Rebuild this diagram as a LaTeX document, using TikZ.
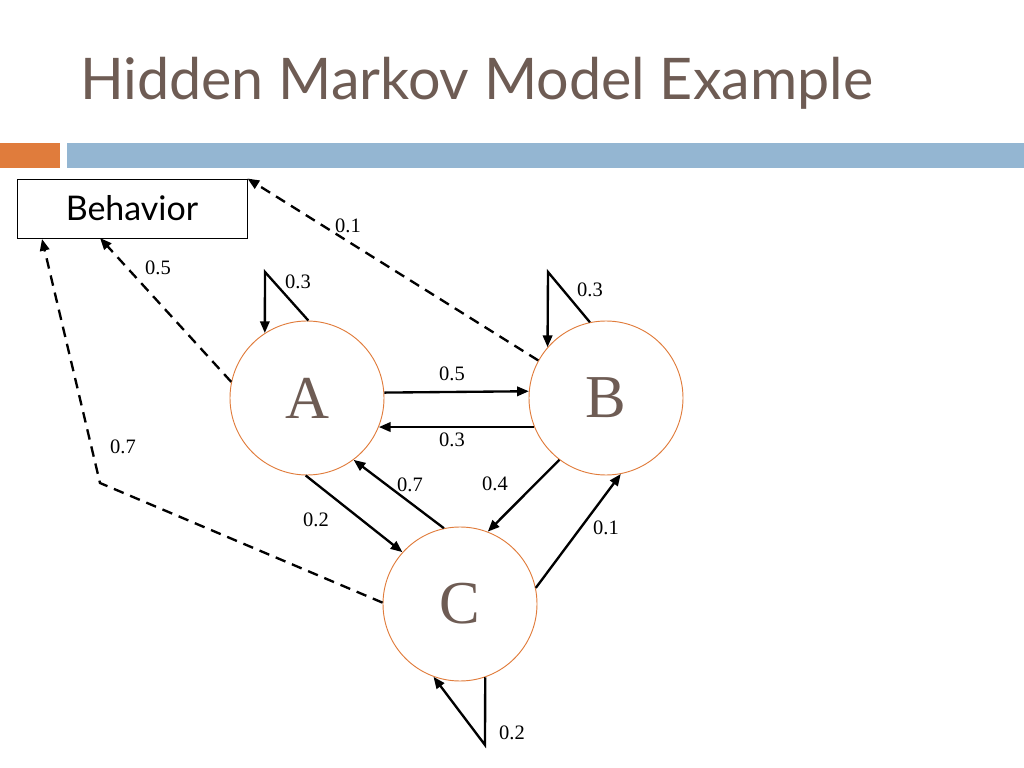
\documentclass[tikz,border=0pt]{standalone}
\usepackage{fontspec}
\setmainfont{Liberation Serif}
\newfontfamily\titlefont{Lato}
\usetikzlibrary{arrows.meta}
\definecolor{titlegray}{RGB}{110,92,84}
\definecolor{barorange}{RGB}{224,124,60}
\definecolor{barblue}{RGB}{148,182,210}
\begin{document}
\begin{tikzpicture}[x=0.03cm, y=-0.03cm,
    state/.style={circle, draw=barorange, thick, minimum size=4.62cm, inner sep=0pt,
        text=titlegray, font=\fontsize{52}{52}\selectfont},
    trans/.style={line width=2pt, -{Triangle[length=10pt,width=8pt]}},
    obs/.style={line width=2pt, dashed, dash pattern=on 9pt off 6pt, -{Triangle[length=10pt,width=8pt]}},
    prob/.style={font=\fontsize{17.5}{17.5}\selectfont, inner sep=1pt}]
  \useasboundingbox (0,0) rectangle (1024,768);
  % title and bars
  \node[anchor=base west, text=titlegray, font=\titlefont\fontsize{49}{49}\selectfont] (title) at (76,100) {Hidden Markov Model Example};
  \fill[barorange] (0,143) rectangle (60,168);
  \fill[barblue] (67,143) rectangle (1024,168);
  % behavior box
  \node[draw, thick, minimum width=6.9cm, minimum height=1.77cm, font=\titlefont\fontsize{29}{29}\selectfont] (behav) at (132,208.5) {Behavior};
  % states
  \node[state] (A) at (307,398) {A};
  \node[state] (B) at (606,398) {B};
  \node[state] (C) at (460,604) {C};
  % transitions
  \draw[trans] (A.4.5) -- (B.175.5);
  \draw[trans] (B.202) -- (A.338);
  \draw[trans] (A.269) -- (C.138);
  \draw[trans] (C.102) -- (A.307);
  \draw[trans] (B.233) -- (C.69);
  \draw[trans] (C.12) -- (B.281);
  % self loops
  \coordinate (la) at (265,272);
  \coordinate (lb) at (548,272);
  \coordinate (lc) at (485,745);
  \draw[trans] (A.89) -- (la) -- (A.123);
  \draw[trans] (B.102) -- (lb) -- (B.139);
  \draw[trans] (C.289) -- (lc) -- (C.250);
  % emissions
  \coordinate (bend) at (100,483);
  \draw[obs] (A.168) -- (100,238);
  \draw[obs] (B.151) -- (behav.north east);
  \draw[obs] (C.179) -- (bend) -- (42,239);
  % probabilities
  \node[prob] (pab) at (452,374) {0.5};
  \node[prob] (pba) at (452,440) {0.3};
  \node[prob] (paa) at (298,282) {0.3};
  \node[prob] (pbb) at (590,290) {0.3};
  \node[prob] (pcc) at (512,733) {0.2};
  \node[prob] (pac) at (316,520) {0.2};
  \node[prob] (pca) at (410,485) {0.7};
  \node[prob] (pbc) at (495,484) {0.4};
  \node[prob] (pcb) at (606,528) {0.1};
  \node[prob] (ea) at (158,268) {0.5};
  \node[prob] (eb) at (348,226) {0.1};
  \node[prob] (ec) at (123,447) {0.7};
\end{tikzpicture}
\end{document}
